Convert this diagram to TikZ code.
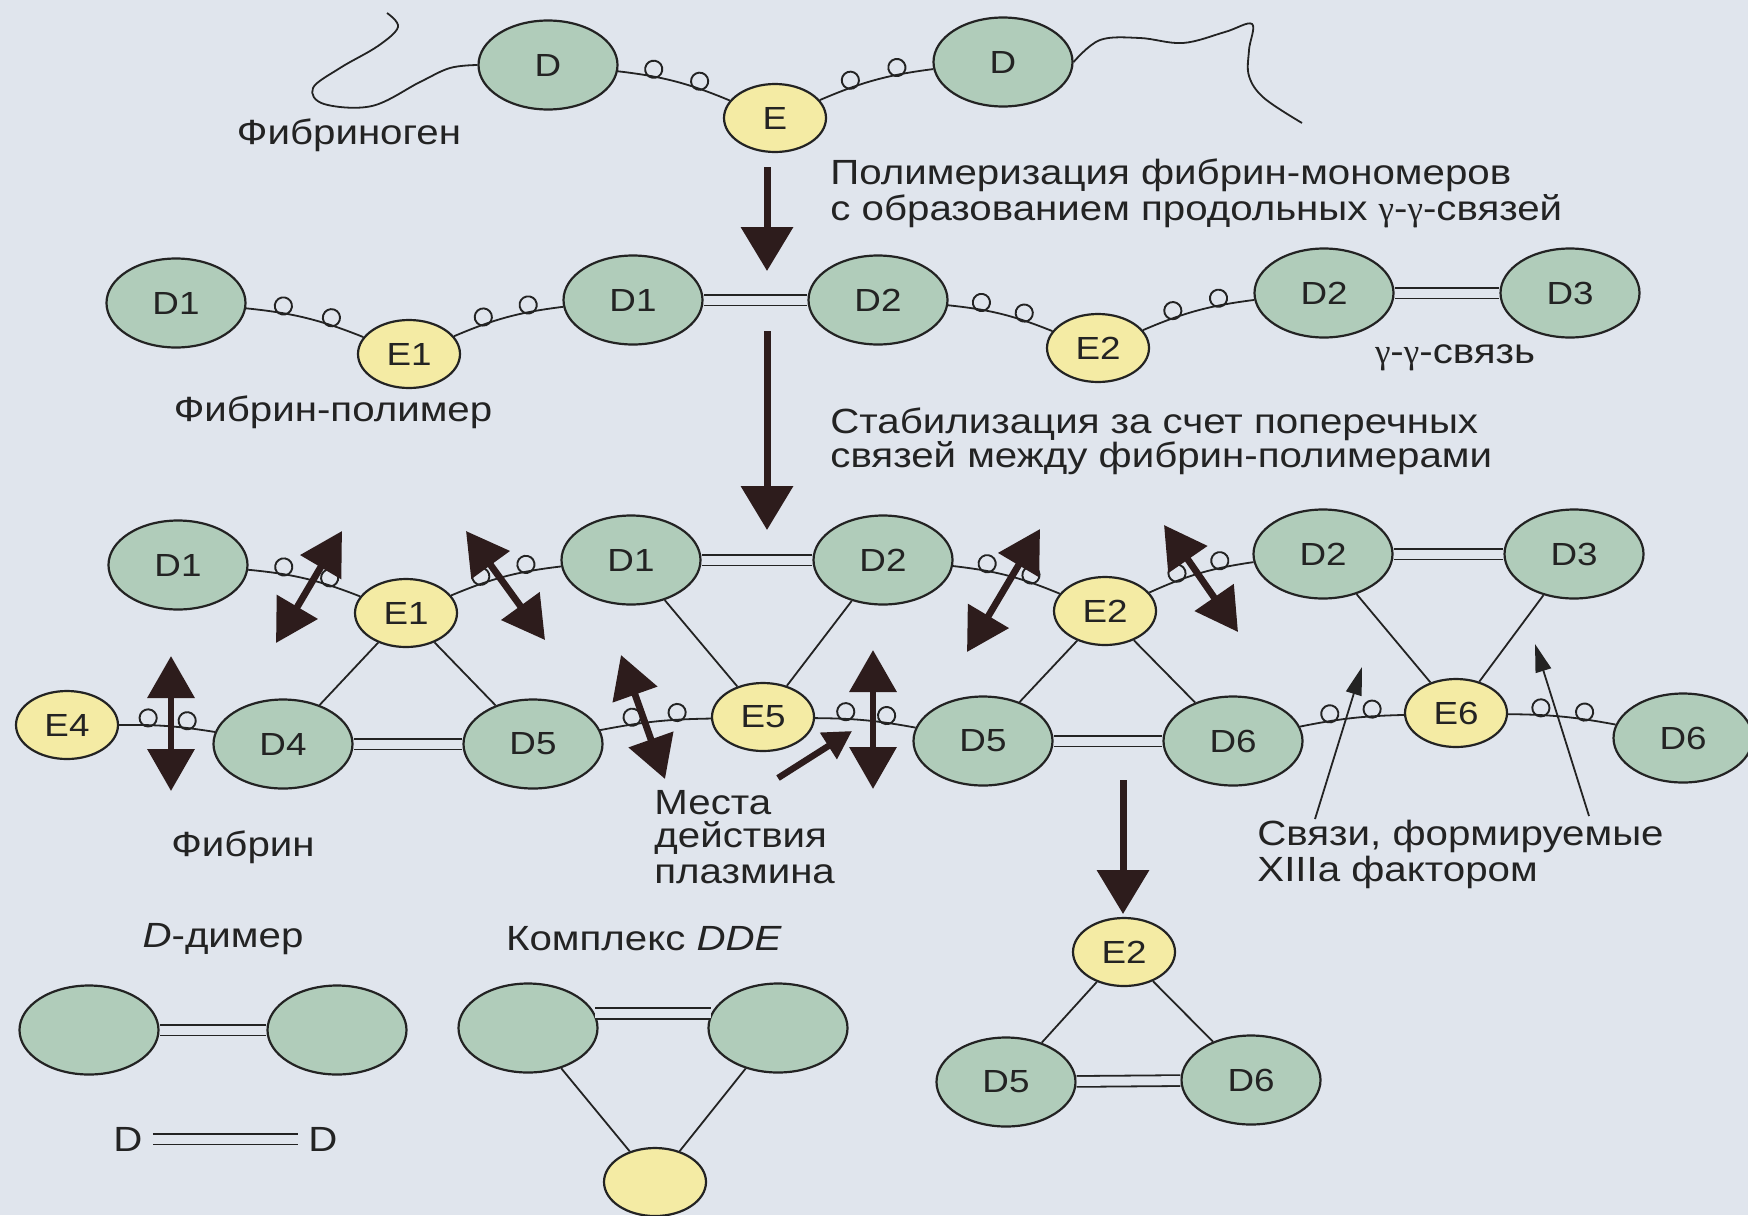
\documentclass[tikz,border=0pt]{standalone}
\usepackage{fontspec}
\setmainfont{Liberation Sans}[FakeStretch=1.15]
\newfontfamily\grk{Liberation Serif}
\usetikzlibrary{shapes.geometric,arrows.meta,decorations.markings}

\definecolor{bg}{RGB}{224,229,237}
\definecolor{dgreen}{RGB}{176,204,186}
\definecolor{eyellow}{RGB}{244,235,164}
\definecolor{ink}{RGB}{35,35,35}
\definecolor{arrowink}{RGB}{45,28,28}

\tikzset{
  dnode/.style={ellipse, draw=ink, fill=dgreen, line width=1.1pt,
    minimum width=69.5pt, minimum height=44.5pt, inner sep=0pt,
    font=\fontsize{16}{18}\selectfont, text=ink},
  enode/.style={ellipse, draw=ink, fill=eyellow, line width=1.1pt,
    minimum width=51pt, minimum height=34pt, inner sep=0pt,
    font=\fontsize{16}{18}\selectfont, text=ink},
  txt/.style={font=\fontsize{17.5}{20}\selectfont, text=ink, inner sep=0pt},
  link/.style={draw=ink, line width=0.9pt},
  loopmark/.style={decoration={markings,
      mark=at position 0.3 with {\draw[ink, line width=0.95pt] (0,3.6pt) circle (4.3pt);},
      mark=at position 0.7 with {\draw[ink, line width=0.95pt] (0,3.6pt) circle (4.3pt);}}},
  coil/.style={link, loopmark, postaction={decorate}},
  gg/.style={draw=ink, line width=0.9pt, double=bg, double distance=4.5pt},
  tail/.style={draw=ink, line width=0.9pt},
  proc/.style={draw=arrowink, line width=3.5pt, -{Triangle[width=25.5pt,length=22pt]}},
  cut/.style={draw=arrowink, line width=3.4pt,
    {Triangle[width=23pt,length=21pt]}-{Triangle[width=23pt,length=21pt]}},
  pointer/.style={draw=arrowink, line width=3.2pt, -{Triangle[width=15pt,length=14pt]}},
  thinptr/.style={draw=ink, line width=0.9pt, -{Triangle[width=8pt,length=14pt]}},
}

\begin{document}
\begin{tikzpicture}[x=0.5pt,y=-0.5pt]
\useasboundingbox (0,0) rectangle (1748,1215);
\fill[bg] (0,0) rectangle (1748,1215);
\clip (0,0) rectangle (1748,1215);

% ---------- fibrinogen ----------
\node[dnode] (fD1) at (548,65) {D};
\node[dnode] (fD2) at (1003,62) {D};
\node[enode] (fE) at (775,118) {E};

% ---------- fibrin polymer ----------
\node[dnode] (pD1a) at (176,303) {D1};
\node[enode] (pE1)  at (409,354) {E1};
\node[dnode] (pD1b) at (633,300) {D1};
\node[dnode] (pD2a) at (878,300) {D2};
\node[enode] (pE2)  at (1098,348) {E2};
\node[dnode] (pD2b) at (1324,293) {D2};
\node[dnode] (pD3)  at (1570,293) {D3};

% ---------- fibrin ----------
\node[dnode] (bD1a) at (178,565) {D1};
\node[enode] (bE1)  at (406,613) {E1};
\node[dnode] (bD1b) at (631,560) {D1};
\node[dnode] (bD2a) at (883,560) {D2};
\node[enode] (bE2)  at (1105,611) {E2};
\node[dnode] (bD2b) at (1323,554) {D2};
\node[dnode] (bD3)  at (1574,554) {D3};
\node[enode] (bE4)  at (67,725) {E4};
\node[dnode] (bD4)  at (283,744) {D4};
\node[dnode] (bD5a) at (533,744) {D5};
\node[enode] (bE5)  at (763,717) {E5};
\node[dnode] (bD5b) at (983,741) {D5};
\node[dnode] (bD6a) at (1233,741) {D6};
\node[enode] (bE6)  at (1456,713) {E6};
\node[dnode] (bD6b) at (1683,738) {D6};

% ---------- DDE fragment ----------
\node[enode] (xE2) at (1124,952) {E2};
\node[dnode] (xD5) at (1006,1082) {D5};
\node[dnode] (xD6) at (1251,1080) {D6};

% ---------- D-dimer and DDE complex ----------
\node[dnode] (dimL) at (89,1030) {};
\node[dnode] (dimR) at (337,1030) {};
\node[dnode] (ddeL) at (528,1028) {};
\node[dnode] (ddeR) at (778,1028) {};
\node[enode] (ddeE) at (655,1182) {};
\node[txt, inner xsep=5pt] (dA) at (128,1139) {D};
\node[txt, inner xsep=5pt] (dB) at (323,1139) {D};

% ---------- free ends of the fibrinogen chains ----------
\draw[tail] plot[smooth, tension=0.6] coordinates {(387,13) (398,27) (378,46) (340,68) (313,88) (324,104) (372,106) (420,82) (450,68) (fD1.west)};
\draw[tail] plot[smooth, tension=0.6] coordinates {(fD2.east) (1100,40) (1140,38) (1183,43) (1225,32) (1252,24) (1249,50) (1249,76) (1264,98) (1302,123)};

% ---------- coiled connections ----------
\draw[coil] (fD1) to[bend left=8] (fE);
\draw[coil] (fE) to[bend left=8] (fD2);

\draw[coil] (pD1a) to[bend left=8] (pE1);
\draw[coil] (pE1) to[bend left=8] (pD1b);
\draw[coil] (pD2a) to[bend left=8] (pE2);
\draw[coil] (pE2) to[bend left=8] (pD2b);

\draw[coil] (bD1a) to[bend left=8] (bE1);
\draw[coil] (bE1) to[bend left=8] (bD1b);
\draw[coil] (bD2a) to[bend left=8] (bE2);
\draw[coil] (bE2) to[bend left=8] (bD2b);
\draw[coil] (bE4) to[bend left=5] (bD4);
\draw[coil] (bD5a) to[bend left=5] (bE5);
\draw[coil] (bE5) to[bend left=5] (bD5b);
\draw[coil] (bD6a) to[bend left=5] (bE6);
\draw[coil] (bE6) to[bend left=5] (bD6b);

% ---------- gamma-gamma bonds ----------
\draw[gg] (pD1b) -- (pD2a);
\draw[gg] (pD2b) -- (pD3);
\draw[gg] (bD1b) -- (bD2a);
\draw[gg] (bD2b) -- (bD3);
\draw[gg] (bD4) -- (bD5a);
\draw[gg] (bD5b) -- (bD6a);
\draw[gg] (xD5) -- (xD6);
\draw[gg] (dimL) -- (dimR);
\draw[gg] (ddeL.12) -- (ddeR.168);
\draw[gg] (dA) -- (dB);

% ---------- cross-links ----------
\draw[link] (bE1) -- (bD4);
\draw[link] (bE1) -- (bD5a);
\draw[link] (bD1b) -- (bE5);
\draw[link] (bD2a) -- (bE5);
\draw[link] (bE2) -- (bD5b);
\draw[link] (bE2) -- (bD6a);
\draw[link] (bD2b) -- (bE6);
\draw[link] (bD3) -- (bE6);
\draw[link] (xE2) -- (xD5);
\draw[link] (xE2) -- (xD6);
\draw[link] (ddeL) -- (ddeE);
\draw[link] (ddeR) -- (ddeE);

% ---------- process arrows ----------
\coordinate (a1s) at (767,167); \coordinate (a1e) at (767,271);
\coordinate (a2s) at (767,331); \coordinate (a2e) at (767,530);
\coordinate (a3s) at (1123,780); \coordinate (a3e) at (1123,914);
\draw[proc] (a1s) -- (a1e);
\draw[proc] (a2s) -- (a2e);
\draw[proc] (a3s) -- (a3e);

% ---------- plasmin cleavage sites ----------
\coordinate (c1a) at (276,643);  \coordinate (c1b) at (342,531);
\coordinate (c2a) at (466,531);  \coordinate (c2b) at (545,640);
\coordinate (c3a) at (171,656);  \coordinate (c3b) at (171,791);
\coordinate (c4a) at (621,655);  \coordinate (c4b) at (665,779);
\coordinate (c5a) at (873,650);  \coordinate (c5b) at (873,789);
\coordinate (c6a) at (967,652);  \coordinate (c6b) at (1040,529);
\coordinate (c7a) at (1164,525); \coordinate (c7b) at (1238,632);
\draw[cut] (c1a) -- (c1b);
\draw[cut] (c2a) -- (c2b);
\draw[cut] (c3a) -- (c3b);
\draw[cut] (c4a) -- (c4b);
\draw[cut] (c5a) -- (c5b);
\draw[cut] (c6a) -- (c6b);
\draw[cut] (c7a) -- (c7b);
\coordinate (ps) at (778,778); \coordinate (pe) at (852,731);
\draw[pointer] (ps) -- (pe);

% ---------- factor XIIIa pointers ----------
\coordinate (x1s) at (1315,819); \coordinate (x1e) at (1362,667);
\coordinate (x2s) at (1589,816); \coordinate (x2e) at (1535,644);
\draw[thinptr] (x1s) -- (x1e);
\draw[thinptr] (x2s) -- (x2e);

% ---------- captions ----------
\node[txt] (tFg) at (349,135) {Фибриноген};
\node[txt, anchor=west] (tP1) at (830,175) {Полимеризация фибрин-мономеров};
\node[txt, anchor=west] (tP2) at (830,211) {с образованием продольных {\grk γ}-{\grk γ}-связей};
\node[txt] (tPol) at (333,412) {Фибрин-полимер};
\node[txt] (tGG) at (1455,358) {{\grk γ}-{\grk γ}-связь};
\node[txt, anchor=west] (tS1) at (830,424) {Стабилизация за счет поперечных};
\node[txt, anchor=west] (tS2) at (830,458) {связей между фибрин-полимерами};
\node[txt] (tFb) at (243,847) {Фибрин};
\node[txt, anchor=west] (tM1) at (654,803) {Места};
\node[txt, anchor=west] (tM2) at (654,838) {действия};
\node[txt, anchor=west] (tM3) at (654,874) {плазмина};
\node[txt, anchor=west] (tX1) at (1257,836) {Связи, формируемые};
\node[txt, anchor=west] (tX2) at (1257,872) {XIIIa фактором};
\node[txt] (tDD) at (223,939) {\textit{D}-димер};
\node[txt] (tDDE) at (644,939) {Комплекс \textit{DDE}};
\end{tikzpicture}
\end{document}
